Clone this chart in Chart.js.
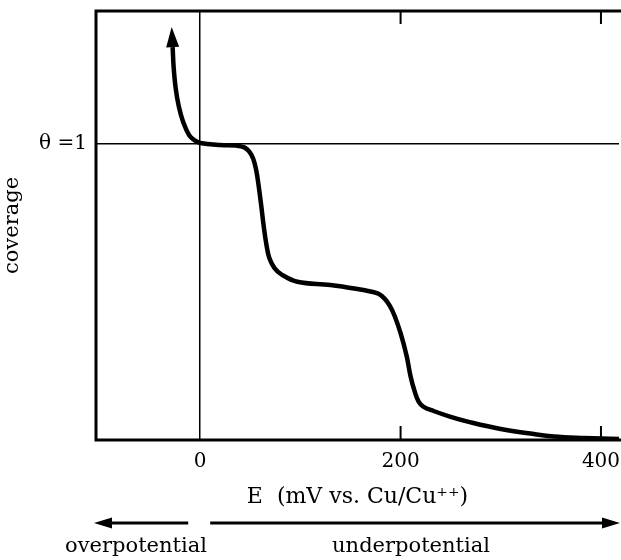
<!DOCTYPE html>
<html>
<head>
<meta charset="utf-8">
<script src="https://cdn.jsdelivr.net/npm/chart.js@4"></script>
<style>
  html, body { margin: 0; padding: 0; background: #fff; }
  #wrap { width: 621px; height: 560px; }
</style>
</head>
<body>
<div id="wrap"><canvas id="chart-coverage"></canvas></div>
<script>
// =============================
// DATOS
// =============================
const potencial = [-27.5, -26.5, -24.5, -21.5, -17, -11, -5, 0, 20, 36, 44, 49, 53, 56, 58.5, 61, 63.5, 66, 69, 74, 81, 97, 130, 163, 170, 178, 184, 189, 194, 200, 206, 210, 214, 218, 223, 233, 250, 267, 300, 333, 353, 383, 418];
const cobertura = [1.328, 1.26, 1.19, 1.13, 1.075, 1.03, 1.012, 1.004, 0.997, 0.995, 0.989, 0.975, 0.95, 0.91, 0.855, 0.79, 0.72, 0.662, 0.615, 0.582, 0.56, 0.535, 0.524, 0.507, 0.502, 0.494, 0.478, 0.455, 0.42, 0.361, 0.285, 0.215, 0.165, 0.13, 0.112, 0.098, 0.078, 0.062, 0.037, 0.02, 0.012, 0.007, 0.003];
const ticksX = [0, 200, 400];
const ticksY = [1];
const etiquetaY = "θ =1";
const tituloX = "E  (mV vs. Cu/Cu⁺⁺)";
const tituloY = "coverage";
const textoOver = "overpotential";
const textoUnder = "underpotential";

const FUENTE = "'DejaVu Serif', serif";

// sin padding automatico de las etiquetas
function sinPadding(s) {
  s.paddingTop = 0;
  s.paddingBottom = 0;
  s.paddingLeft = 0;
  s.paddingRight = 0;
}

// =============================
// PLUGIN: marco, flechas, textos
// =============================
const extras = {
  id: "extras",
  afterDatasetsDraw(chart) {
    const { ctx, chartArea: a, scales: { x } } = chart;
    ctx.save();
    ctx.strokeStyle = "#000";
    ctx.fillStyle = "#000";

    // marco (sin borde derecho, queda cortado en la imagen)
    ctx.lineWidth = 3;
    ctx.beginPath();
    ctx.moveTo(chart.width, a.top);
    ctx.lineTo(a.left, a.top);
    ctx.lineTo(a.left, a.bottom);
    ctx.lineTo(chart.width, a.bottom);
    ctx.stroke();

    // ticks hacia adentro (arriba y abajo)
    ctx.lineWidth = 2;
    ticksX.filter(v => v !== 0).forEach(v => {
      const px = x.getPixelForValue(v);
      ctx.beginPath();
      ctx.moveTo(px, a.top); ctx.lineTo(px, a.top + 13);
      ctx.moveTo(px, a.bottom); ctx.lineTo(px, a.bottom - 14);
      ctx.stroke();
    });

    // punta de flecha de la curva
    const pts = chart.getDatasetMeta(0).data;
    const p0 = pts[0], p1 = pts[1];
    let dx = p0.x - p1.x, dy = p0.y - p1.y;
    const len = Math.hypot(dx, dy);
    dx /= len; dy /= len;
    const tipX = p0.x + dx * 20, tipY = p0.y + dy * 20;
    ctx.beginPath();
    ctx.moveTo(tipX, tipY);
    ctx.lineTo(p0.x - dy * 6.5, p0.y + dx * 6.5);
    ctx.lineTo(p0.x + dy * 6.5, p0.y - dx * 6.5);
    ctx.closePath();
    ctx.fill();

    // flechas de abajo
    const yFlecha = 523;
    const cero = x.getPixelForValue(0);
    const flecha = (desde, hasta) => {
      const dir = Math.sign(hasta - desde);
      ctx.lineWidth = 3;
      ctx.beginPath();
      ctx.moveTo(desde, yFlecha);
      ctx.lineTo(hasta - dir * 14, yFlecha);
      ctx.stroke();
      ctx.beginPath();
      ctx.moveTo(hasta, yFlecha);
      ctx.lineTo(hasta - dir * 18, yFlecha - 5.5);
      ctx.lineTo(hasta - dir * 18, yFlecha + 5.5);
      ctx.closePath();
      ctx.fill();
    };
    flecha(cero - 12, a.left - 2);
    flecha(cero + 10, a.right + 1);

    ctx.font = "21px " + FUENTE;
    ctx.textAlign = "center";
    ctx.textBaseline = "middle";
    ctx.fillText(textoOver, 136, 547);
    ctx.fillText(textoUnder, 411, 547);
    ctx.restore();
  }
};

// =============================
// GRAFICO
// =============================
new Chart(document.getElementById("chart-coverage"), {
  type: "line",
  data: {
    labels: potencial,
    datasets: [{
      data: potencial.map((e, i) => ({ x: e, y: cobertura[i] })),
      borderColor: "#000",
      borderWidth: 4.5,
      pointRadius: 0,
      tension: 0.4,
      fill: false
    }]
  },
  options: {
    responsive: true,
    maintainAspectRatio: false,
    animation: false,
    layout: { autoPadding: false, padding: { top: 11, right: 2, left: 0, bottom: 0 } },
    plugins: {
      legend: { display: false },
      tooltip: { enabled: false }
    },
    scales: {
      x: {
        type: "linear",
        min: -104,
        max: 418,
        afterBuildTicks: s => { s.ticks = ticksX.map(v => ({ value: v })); },
        afterFit: s => { s.height = 120; sinPadding(s); },
        grid: {
          color: c => (c.tick && c.tick.value === 0) ? "#000" : "rgba(0,0,0,0)",
          lineWidth: 1.5,
          drawTicks: false
        },
        border: { display: false },
        ticks: {
          color: "#000",
          font: { family: FUENTE, size: 20 },
          padding: 10,
          maxRotation: 0
        },
        title: {
          display: true,
          text: tituloX,
          color: "#000",
          font: { family: FUENTE, size: 22 },
          padding: { top: 0, bottom: 50 }
        }
      },
      y: {
        min: 0,
        max: 1.45,
        afterBuildTicks: s => { s.ticks = ticksY.map(v => ({ value: v })); },
        afterFit: s => { s.width = 96; sinPadding(s); },
        grid: {
          color: "#000",
          lineWidth: 1.5,
          drawTicks: false
        },
        border: { display: false },
        ticks: {
          color: "#000",
          font: { family: FUENTE, size: 20 },
          padding: 9,
          callback: () => etiquetaY
        },
        title: {
          display: true,
          text: tituloY,
          color: "#000",
          font: { family: FUENTE, size: 21 },
          padding: { top: 0, bottom: 6 }
        }
      }
    }
  },
  plugins: [extras]
});
</script>
</body>
</html>
